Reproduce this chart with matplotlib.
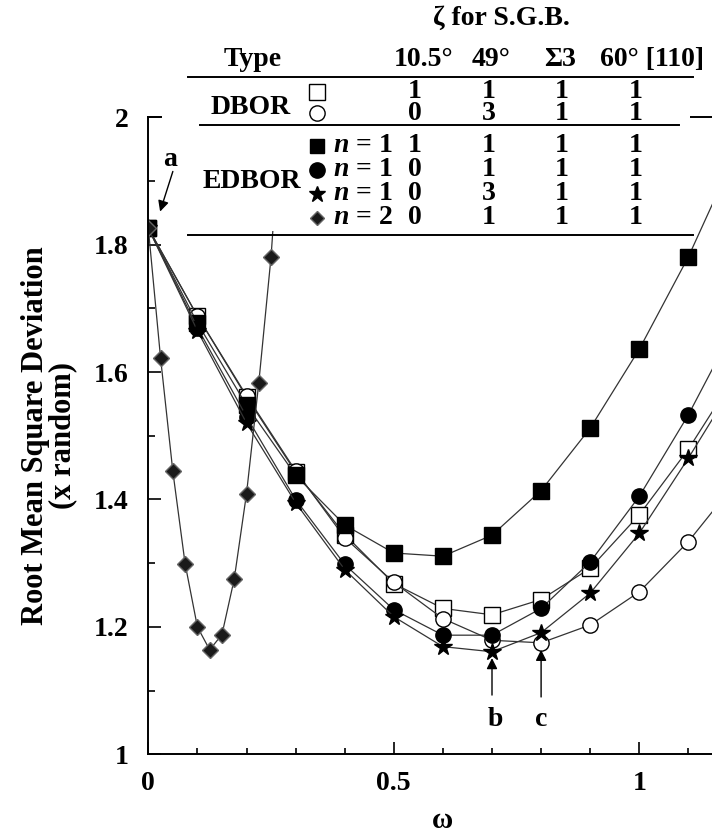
import matplotlib.pyplot as plt
from matplotlib.patches import Rectangle
from matplotlib.lines import Line2D
from matplotlib.ticker import MultipleLocator

plt.rcParams['font.family'] = ['Liberation Serif', 'DejaVu Serif']
plt.rcParams['font.weight'] = 'bold'
plt.rcParams['axes.labelweight'] = 'bold'
plt.rcParams['mathtext.fontset'] = 'custom'
plt.rcParams['mathtext.rm'] = 'Liberation Serif:bold'
plt.rcParams['mathtext.it'] = 'Liberation Serif:italic:bold'

# omega values of the main runs (last point lies beyond the right edge)
omega = [0.0, 0.1, 0.2, 0.3, 0.4, 0.5, 0.6, 0.7, 0.8, 0.9, 1.0, 1.1, 1.2]
dbor_square = [1.826, 1.688, 1.561, 1.443, 1.345, 1.268, 1.229, 1.219, 1.243, 1.292, 1.376, 1.479, 1.60]
dbor_circle = [1.826, 1.688, 1.563, 1.445, 1.340, 1.270, 1.213, 1.179, 1.175, 1.203, 1.255, 1.334, 1.43]
edbor_square = [1.826, 1.677, 1.548, 1.438, 1.360, 1.316, 1.311, 1.344, 1.414, 1.512, 1.636, 1.781, 1.95]
edbor_circle = [1.826, 1.670, 1.530, 1.400, 1.298, 1.227, 1.187, 1.187, 1.229, 1.302, 1.405, 1.533, 1.68]
edbor_star = [1.826, 1.665, 1.520, 1.395, 1.290, 1.216, 1.169, 1.161, 1.191, 1.253, 1.347, 1.465, 1.59]

# n = 2 run, finer omega steps
omega_n2 = [0.0, 0.025, 0.05, 0.075, 0.1, 0.125, 0.15, 0.175, 0.2, 0.225, 0.25, 0.275]
edbor_n2 = [1.826, 1.622, 1.444, 1.299, 1.200, 1.164, 1.188, 1.275, 1.409, 1.583, 1.781, 2.06]

# legend table
zeta_columns = ['10.5°', '49°', 'Σ3', '60° [110]']
zeta_rows = [[1, 1, 1, 1], [0, 3, 1, 1],
             [1, 1, 1, 1], [0, 1, 1, 1], [0, 3, 1, 1], [0, 1, 1, 1]]
n_values = [1, 1, 1, 2]

W, H = 712, 834


def fx(px):
    return px / W


def fy(py):
    return 1 - py / H


fig = plt.figure(figsize=(W / 100, H / 100), dpi=100)
ax = fig.add_axes([148.3 / W, 1 - 754.3 / H, 1.2 * 491 / W, 637 / H])

line_kw = dict(color='#333333', lw=0.9)
ax.plot(omega, dbor_square, marker='s', ms=11, mfc='white', mec='black', mew=1.0, **line_kw)
ax.plot(omega, dbor_circle, marker='o', ms=11, mfc='white', mec='black', mew=1.0, **line_kw)
ax.plot(omega, edbor_square, marker='s', ms=12, mfc='black', mec='black', **line_kw)
ax.plot(omega, edbor_circle, marker='o', ms=11, mfc='black', mec='black', **line_kw)
ax.plot(omega, edbor_star, marker='*', ms=13, mfc='black', mec='black', **line_kw)
ax.plot(omega_n2, edbor_n2, marker='D', ms=8, mfc='#1a1a1a', mec='#666666', mew=1.0, **line_kw)

ax.set_xlim(0, 1.2)
ax.set_ylim(1, 2)
ax.xaxis.set_major_locator(MultipleLocator(0.5))
ax.xaxis.set_minor_locator(MultipleLocator(0.1))
ax.yaxis.set_major_locator(MultipleLocator(0.2))
ax.yaxis.set_minor_locator(MultipleLocator(0.1))
ax.xaxis.set_major_formatter(plt.FuncFormatter(lambda v, p: f'{v:g}'))
ax.yaxis.set_major_formatter(plt.FuncFormatter(lambda v, p: f'{v:g}'))
ax.tick_params(which='both', direction='in', labelsize=20, width=1.2)
ax.tick_params(axis='y', which='major', length=9.5, pad=14)
ax.tick_params(axis='y', which='minor', length=5)
ax.tick_params(axis='x', which='major', length=9, pad=12)
ax.tick_params(axis='x', which='minor', length=4)
for s in ax.spines.values():
    s.set_linewidth(1.4)

ax.set_xlabel('ω', fontsize=21, labelpad=8)
ax.set_ylabel('Root Mean Square Deviation\n(x random)', fontsize=22,
              linespacing=0.95, labelpad=12)

# annotations a, b, c
arr = dict(arrowstyle='-|>', color='black', lw=1.0, mutation_scale=16, shrinkA=0, shrinkB=0)
ax.annotate('', xy=(0.024, 1.852), xytext=(0.05, 1.915), arrowprops=arr, zorder=7)
ax.text(0.044, 1.934, 'a', fontsize=20, ha='center', va='center', zorder=7)
ax.annotate('', xy=(0.7, 1.151), xytext=(0.7, 1.093), arrowprops=arr, zorder=7)
ax.text(0.706, 1.054, 'b', fontsize=20, ha='center', va='center', zorder=7)
ax.annotate('', xy=(0.8, 1.164), xytext=(0.8, 1.09), arrowprops=arr, zorder=7)
ax.text(0.8, 1.054, 'c', fontsize=20, ha='center', va='center', zorder=7)

# white panel behind the legend table, hides the top spine and data underneath
ax.add_patch(Rectangle((fx(162), fy(231)), fx(690) - fx(162), fy(0) - fy(231),
                       transform=fig.transFigure, facecolor='white', edgecolor='none',
                       clip_on=False, zorder=5))

# table
fs = 20
fig.text(fx(501), fy(18), 'ζ for S.G.B.', fontsize=fs, ha='center', va='center')
fig.text(fx(253), fy(60), 'Type', fontsize=fs, ha='center', va='center')
col_head_x = [424, 491, 560, 600]
for i, (lab, cx) in enumerate(zip(zeta_columns, col_head_x)):
    fig.text(fx(cx), fy(60), lab, fontsize=fs, ha='left' if i == 3 else 'center', va='center')

for x1, x2, yy in [(188, 693, 77), (200, 679, 125), (188, 693, 235)]:
    fig.add_artist(Line2D([fx(x1), fx(x2)], [fy(yy), fy(yy)], transform=fig.transFigure,
                          color='black', lw=1.4))

fig.text(fx(251), fy(107), 'DBOR', fontsize=fs, ha='center', va='center')
fig.text(fx(252), fy(182), 'EDBOR', fontsize=fs, ha='center', va='center')

row_y = [92, 113, 146, 170, 194, 218]
col_x = [415, 489, 562, 636]
for yy, vals in zip(row_y, zeta_rows):
    for cx, v in zip(col_x, vals):
        fig.text(fx(cx), fy(yy), str(v), fontsize=fs, ha='center', va='center')

table_markers = [
    dict(marker='s', ms=11, mfc='white', mec='black', mew=1.0),
    dict(marker='o', ms=11, mfc='white', mec='black', mew=1.0),
    dict(marker='s', ms=10.5, mfc='black', mec='black'),
    dict(marker='o', ms=11, mfc='black', mec='black'),
    dict(marker='*', ms=12, mfc='black', mec='black'),
    dict(marker='D', ms=7, mfc='#1a1a1a', mec='#666666'),
]
for yy, mk in zip(row_y, table_markers):
    fig.add_artist(Line2D([fx(317)], [fy(yy)], transform=fig.transFigure, ls='none', **mk))

for yy, n in zip(row_y[2:], n_values):
    fig.text(fx(333), fy(yy), f'$n$ = {n}', fontsize=fs, ha='left', va='center')

fig.savefig('out.png', dpi=100)
